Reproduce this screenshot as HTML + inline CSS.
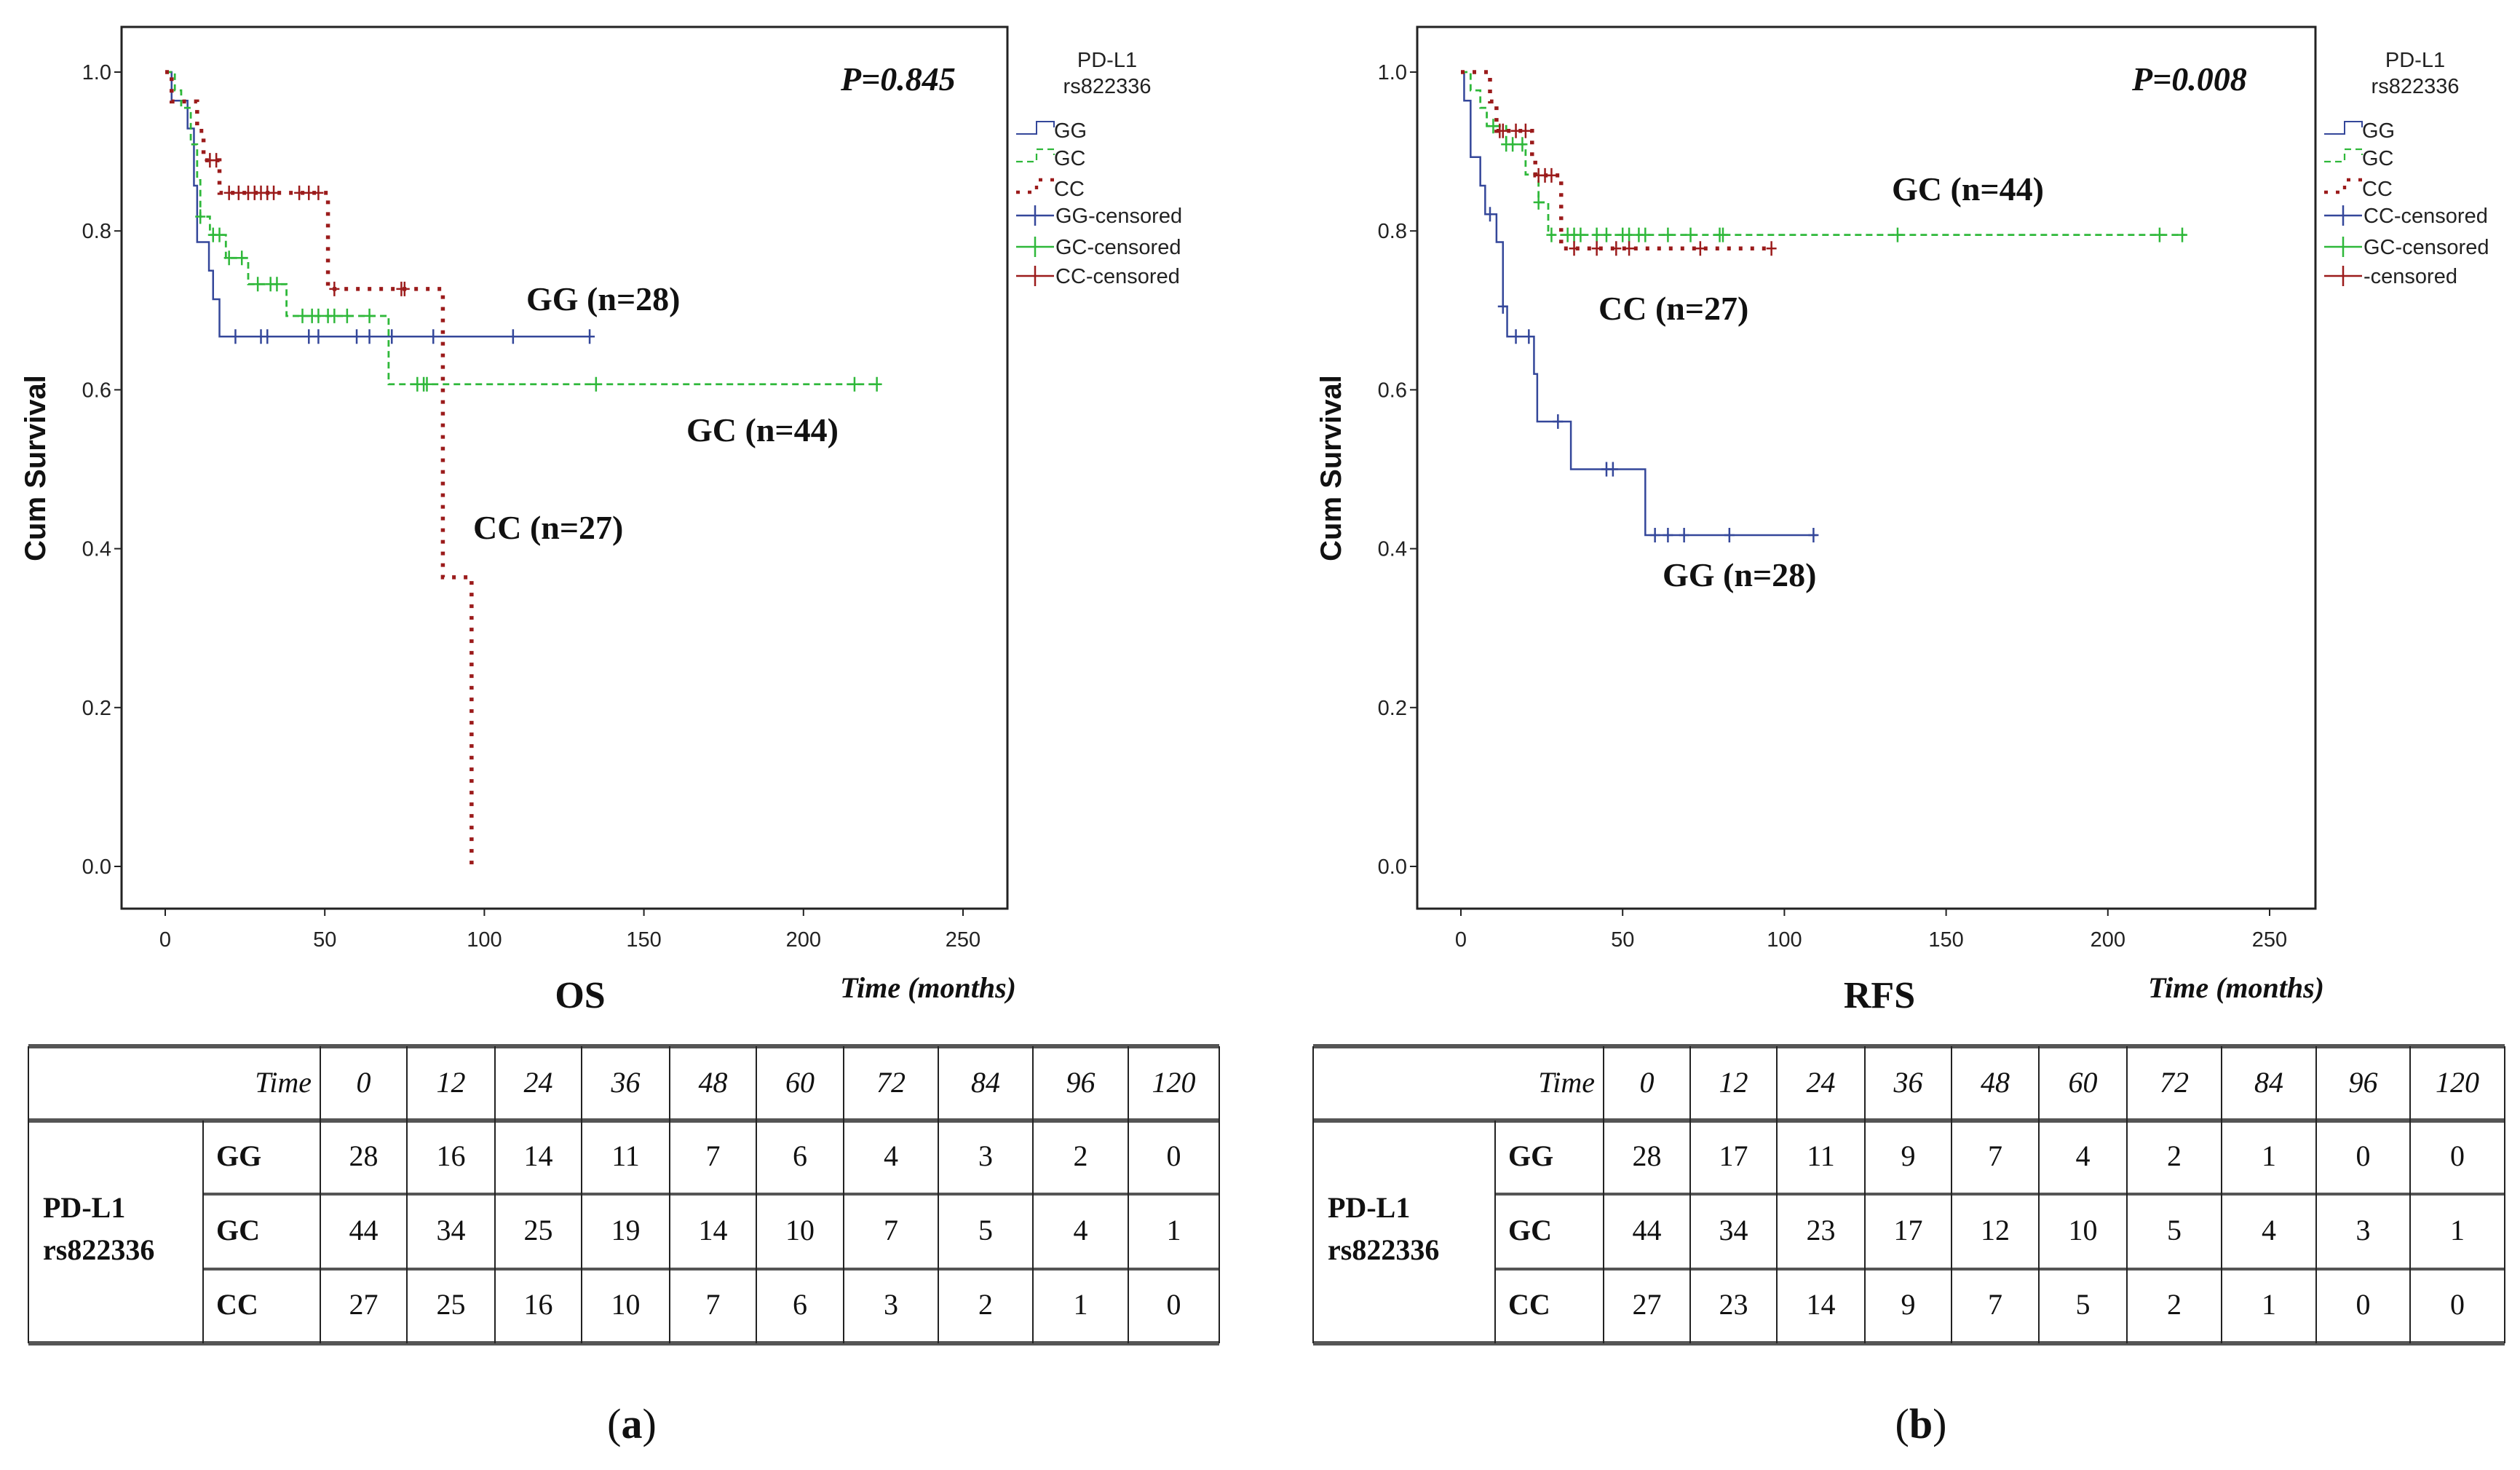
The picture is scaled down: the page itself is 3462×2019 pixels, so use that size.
<!DOCTYPE html>
<html><head><meta charset="utf-8"><style>
html,body{margin:0;padding:0;background:#fff;}
svg{display:block;}
.tk{font-family:"Liberation Sans",Arial,sans-serif;font-size:29px;fill:#222;}
.lg{font-family:"Liberation Sans",Arial,sans-serif;font-size:29px;fill:#222;}
.ser{font-family:"Liberation Serif","DejaVu Serif",serif;fill:#111;}
</style></head><body>
<svg id="fig" width="3462" height="2019" viewBox="0 0 3462 2019" xmlns="http://www.w3.org/2000/svg">
<rect x="0" y="0" width="3462" height="2019" fill="#fff"/>
</svg>
<script>
// ---------- Data ----------
const xTicks = [0, 50, 100, 150, 200, 250];
const yTicks = [0.0, 0.2, 0.4, 0.6, 0.8, 1.0];
const groups = ["GG", "GC", "CC"];
// OS (a)
const osGGTimes = [2, 7, 9, 10, 13.7, 15, 17];
const osGGSurv  = [0.964, 0.929, 0.857, 0.786, 0.75, 0.714, 0.667];
const osGGEnd = 133;
const osGGCens = [22, 30, 32, 45, 48, 60, 64, 71, 84, 109, 133];
const osGCTimes = [3, 5, 8, 10, 11, 14, 19, 26, 38, 70];
const osGCSurv  = [0.977, 0.955, 0.909, 0.864, 0.818, 0.795, 0.766, 0.733, 0.693, 0.607];
const osGCEnd = 224;
const osGCCens = [11, 15, 17, 20, 24, 29, 33, 35, 43, 46, 48, 51, 53, 57, 64, 79, 81, 82, 135, 216, 223];
const osCCTimes = [2, 10, 12, 17, 51, 87, 96];
const osCCSurv  = [0.963, 0.926, 0.889, 0.848, 0.727, 0.364, 0.0];
const osCCEnd = 96;
const osCCCens = [14, 16, 20, 23, 26, 28, 30, 32, 34, 42, 45, 48, 53, 74, 75];
// RFS (b)
const rfsGGTimes = [1, 3, 6, 7.5, 11, 13, 14.3, 22.6, 23.6, 34, 57];
const rfsGGSurv  = [0.964, 0.893, 0.857, 0.821, 0.786, 0.705, 0.667, 0.62, 0.56, 0.5, 0.417];
const rfsGGEnd = 110;
const rfsGGCens = [9, 13, 17, 21, 30, 45, 47, 60, 64, 69, 83, 109];
const rfsGCTimes = [3, 6, 8, 14, 20, 24, 27];
const rfsGCSurv  = [0.977, 0.955, 0.932, 0.909, 0.871, 0.836, 0.795];
const rfsGCEnd = 224;
const rfsGCCens = [10, 14, 16, 19, 24, 28, 33, 35, 37, 42, 45, 50, 52, 55, 57, 64, 71, 80, 81, 135, 216, 223];
const rfsCCTimes = [9, 11, 22, 23, 31];
const rfsCCSurv  = [0.963, 0.926, 0.889, 0.87, 0.778];
const rfsCCEnd = 96;
const rfsCCCens = [12, 13, 17, 20, 24, 26, 28, 35, 42, 48, 52, 74, 96];
// risk tables
const tableTimes = [0, 12, 24, 36, 48, 60, 72, 84, 96, 120];
const osRiskGG = [28, 16, 14, 11, 7, 6, 4, 3, 2, 0];
const osRiskGC = [44, 34, 25, 19, 14, 10, 7, 5, 4, 1];
const osRiskCC = [27, 25, 16, 10, 7, 6, 3, 2, 1, 0];
const rfsRiskGG = [28, 17, 11, 9, 7, 4, 2, 1, 0, 0];
const rfsRiskGC = [44, 34, 23, 17, 12, 10, 5, 4, 3, 1];
const rfsRiskCC = [27, 23, 14, 9, 7, 5, 2, 1, 0, 0];

// ---------- helpers ----------
const NS = "http://www.w3.org/2000/svg";
const svg = document.getElementById("fig");
function mk(tag, attrs, parent, text) {
  const e = document.createElementNS(NS, tag);
  for (const k in attrs) e.setAttribute(k, attrs[k]);
  if (text !== undefined) e.textContent = text;
  (parent || svg).appendChild(e);
  return e;
}
const COL = { GG: "#34479a", GC: "#2fb83a", CC: "#9b1b1b" };
const DASH = { GG: "none", GC: "9,6", CC: "5,11" };
const WID = { GG: 2.5, GC: 2.8, CC: 5.5 };

function survAt(times, surv, t) {
  let s = 1;
  for (let i = 0; i < times.length; i++) if (times[i] <= t) s = surv[i];
  return s;
}

function drawChart(cfg) {
  const g = mk("g", {});
  
  
  const X = t => cfg.x0 + (cfg.x250 - cfg.x0) * t / 250;
  const Y = v => cfg.y0 + (cfg.y1 - cfg.y0) * v;
  const frame = mk("rect", { x: cfg.fl, y: 37, width: cfg.fr - cfg.fl, height: 1211, fill: "none", stroke: "#222", "stroke-width": 3 }, g);
  
  
  yTicks.forEach(v => {
    const l = mk("line", { x1: cfg.fl - 10, x2: cfg.fl, y1: Y(v), y2: Y(v), stroke: "#222", "stroke-width": 2 }, g);
    
    
    const t = mk("text", { x: cfg.fl - 14, y: Y(v) + 10, "text-anchor": "end", class: "tk" }, g, v.toFixed(1));
    
    
  });
  xTicks.forEach(v => {
    const l = mk("line", { x1: X(v), x2: X(v), y1: 1248, y2: 1258, stroke: "#222", "stroke-width": 2 }, g);
    
    
    const t = mk("text", { x: X(v), y: 1300, "text-anchor": "middle", class: "tk" }, g, String(v));
    
    
  });
  const yt = mk("text", { x: 0, y: 0, transform: `translate(${cfg.fl - 105},643) rotate(-90)`, "text-anchor": "middle", "font-family": "Liberation Sans, Arial, sans-serif", "font-size": 40, "font-weight": "bold", fill: "#111" }, g, "Cum Survival");
  
  

  cfg.series.forEach(s => {
    let d = `M${X(0)},${Y(1)}`;
    let cur = 1;
    s.times.forEach((t, i) => { d += ` H${X(t)} V${Y(s.surv[i])}`; cur = s.surv[i]; });
    d += ` H${X(s.end)}`;
    const p = mk("path", { d: d, fill: "none", stroke: COL[s.g], "stroke-width": WID[s.g], "stroke-dasharray": DASH[s.g] }, g);
    
    
    s.cens.forEach(c => {
      const v = survAt(s.times, s.surv, c);
      const m = mk("path", { d: `M${X(c)},${Y(v) - 10} V${Y(v) + 10} M${X(c) - 7},${Y(v)} H${X(c) + 7}`, stroke: COL[s.g], "stroke-width": 2.5 }, g);
      
      
    });
  });

  // legend
  const lx = cfg.fr + 12;
  const h1 = mk("text", { x: lx + 125, y: 92, "text-anchor": "middle", class: "lg" }, g, "PD-L1");
  
  
  const h2 = mk("text", { x: lx + 125, y: 128, "text-anchor": "middle", class: "lg" }, g, "rs822336");
  
  
  const ys = [179, 217, 259, 296, 339, 379];
  groups.forEach((gr, i) => {
    const y = ys[i];
    const p = mk("path", { d: `M${lx},${y + 5} H${lx + 28} V${y - 12} H${lx + 52} V${y - 4}`, fill: "none", stroke: COL[gr], "stroke-width": WID[gr] * 0.8, "stroke-dasharray": DASH[gr] }, g);
    
    
    const t = mk("text", { x: lx + 52, y: y + 10, class: "lg" }, g, gr);
    
    
  });
  cfg.censLabels.forEach((lab, i) => {
    const y = ys[i + 3];
    const gr = groups[i];
    const p = mk("path", { d: `M${lx},${y} H${lx + 52} M${lx + 26},${y - 14} V${y + 14}`, stroke: COL[gr], "stroke-width": 2.5 }, g);
    
    
    const t = mk("text", { x: lx + 54, y: y + 10, class: "lg" }, g, lab);
    
    
  });

  const pv = mk("text", { x: cfg.px, y: 124, class: "ser", "font-size": 46, "font-style": "italic", "font-weight": "bold" }, g, cfg.p);
  
  
  cfg.annots.forEach(a => {
    const t = mk("text", { x: a[1], y: a[2] + 15, class: "ser", "font-size": 46, "font-weight": "bold" }, g, a[0]);
    
    
  });
  const tt = mk("text", { x: cfg.titleX, y: 1384, "text-anchor": "middle", class: "ser", "font-size": 52, "font-weight": "bold" }, g, cfg.title);
  
  
  const xt = mk("text", { x: cfg.fr + 12, y: 1370, "text-anchor": "end", class: "ser", "font-size": 40, "font-style": "italic", "font-weight": "bold" }, g, "Time (months)");
  
  
}

drawChart({
  name: "os-chart", fl: 167, fr: 1384, x0: 227, x250: 1323, y1: 99, y0: 1190,
  p: "P=0.845", px: 1155, title: "OS", titleX: 797,
  censLabels: ["GG-censored", "GC-censored", "CC-censored"],
  annots: [["GG (n=28)", 723, 411], ["GC (n=44)", 943, 591], ["CC (n=27)", 650, 725]],
  series: [
    { g: "GG", times: osGGTimes, surv: osGGSurv, end: osGGEnd, cens: osGGCens },
    { g: "GC", times: osGCTimes, surv: osGCSurv, end: osGCEnd, cens: osGCCens },
    { g: "CC", times: osCCTimes, surv: osCCSurv, end: osCCEnd, cens: osCCCens }
  ]
});
drawChart({
  name: "rfs-chart", fl: 1947, fr: 3181, x0: 2007, x250: 3118, y1: 99, y0: 1190,
  p: "P=0.008", px: 2929, title: "RFS", titleX: 2582,
  censLabels: ["CC-censored", "GC-censored", "-censored"],
  annots: [["GC (n=44)", 2599, 260], ["CC (n=27)", 2196, 424], ["GG (n=28)", 2284, 790]],
  series: [
    { g: "GG", times: rfsGGTimes, surv: rfsGGSurv, end: rfsGGEnd, cens: rfsGGCens },
    { g: "GC", times: rfsGCTimes, surv: rfsGCSurv, end: rfsGCEnd, cens: rfsGCCens },
    { g: "CC", times: rfsCCTimes, surv: rfsCCSurv, end: rfsCCEnd, cens: rfsCCCens }
  ]
});

function drawTable(name, cols, rows, label, labelX) {
  const g = mk("g", {});
  
  
  const L = cols[0], R = cols[cols.length - 1];
  const yT = 1437, yH = 1539, yR1 = 1640, yR2 = 1743, yB = 1845;
  const thick = (y) => { const l = mk("line", { x1: L, x2: R, y1: y, y2: y, stroke: "#555", "stroke-width": 6 }, g);   };
  thick(yT); thick(yH); thick(yB);
  [yR1, yR2].forEach(y => { const l = mk("line", { x1: cols[1], x2: R, y1: y, y2: y, stroke: "#555", "stroke-width": 4 }, g);   });
  cols.forEach((c, i) => {
    const y1 = (i === 1) ? yH : yT;
    const l = mk("line", { x1: c, x2: c, y1: y1, y2: yB, stroke: "#222", "stroke-width": 2 }, g);
    
    
  });
  const ht = mk("text", { x: cols[2] - 12, y: 1500, "text-anchor": "end", class: "ser", "font-size": 40, "font-style": "italic" }, g, "Time");
  
  
  tableTimes.forEach((t, i) => {
    const e = mk("text", { x: (cols[i + 2] + cols[i + 3]) / 2, y: 1500, "text-anchor": "middle", class: "ser", "font-size": 40, "font-style": "italic" }, g, String(t));
    
    
  });
  const rys = [1601, 1703, 1805];
  rows.forEach((r, ri) => {
    const gl = mk("text", { x: cols[1] + 18, y: rys[ri], class: "ser", "font-size": 40, "font-weight": "bold" }, g, groups[ri]);
    
    
    r.forEach((v, i) => {
      const e = mk("text", { x: (cols[i + 2] + cols[i + 3]) / 2, y: rys[ri], "text-anchor": "middle", class: "ser", "font-size": 40 }, g, String(v));
      
      
    });
  });
  const a = mk("text", { x: cols[0] + 20, y: 1672, class: "ser", "font-size": 40, "font-weight": "bold" }, g, "PD-L1");
  
  
  const b = mk("text", { x: cols[0] + 20, y: 1730, class: "ser", "font-size": 40, "font-weight": "bold" }, g, "rs822336");
  
  
  const pl = mk("text", { x: labelX, y: 1975, "text-anchor": "middle", class: "ser", "font-size": 58 }, g, "");
  
  
  const s1 = mk("tspan", {}, pl, "(");
  const s2 = mk("tspan", { "font-weight": "bold" }, pl, label);
  const s3 = mk("tspan", {}, pl, ")");
}
drawTable("os-risk-table", [39, 279, 440, 559, 680, 799, 920, 1039, 1159, 1289, 1419, 1550, 1675], [osRiskGG, osRiskGC, osRiskCC], "a", 868);
drawTable("rfs-risk-table", [1804, 2054, 2203, 2322, 2441, 2562, 2681, 2801, 2922, 3052, 3182, 3311, 3441], [rfsRiskGG, rfsRiskGC, rfsRiskCC], "b", 2639);
</script>
</body></html>
